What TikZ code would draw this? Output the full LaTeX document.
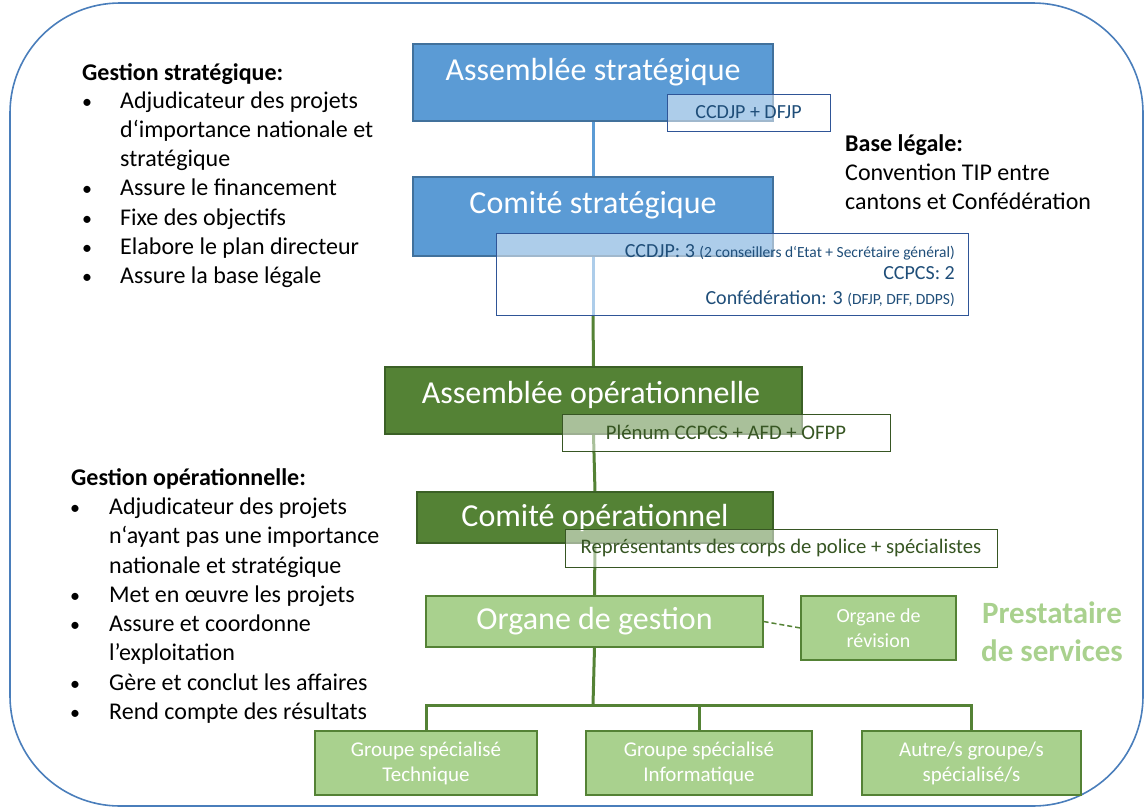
\documentclass[tikz,border=0pt]{standalone}
\usepackage{fontspec}
\setmainfont{Carlito}
\definecolor{sblue}{HTML}{5B9BD5}
\definecolor{sblueD}{HTML}{41719C}
\definecolor{itext}{HTML}{1F4E79}
\definecolor{iborder}{HTML}{2F5597}
\definecolor{gdark}{HTML}{548235}
\definecolor{gdarkD}{HTML}{3B6026}
\definecolor{gtext}{HTML}{375623}
\definecolor{glight}{HTML}{A9D18E}
\definecolor{outer}{HTML}{4A7EBB}
\pgfdeclarelayer{background}
\pgfsetlayers{background,main}
\begin{document}
\begin{tikzpicture}[x=1pt,y=-1pt,
  sbox/.style={draw=sblueD, line width=1.2pt, fill=sblue, inner sep=0},
  gbox/.style={draw=gdarkD, line width=1.2pt, fill=gdark, inner sep=0},
  lbox/.style={draw=gdark, line width=1.2pt, fill=glight, inner sep=0, text=white, align=center},
  ibox/.style={draw=iborder, line width=1pt, fill=white, fill opacity=0.5, text opacity=1, draw opacity=1, inner sep=0, text=itext, font=\fontsize{20}{24}\selectfont},
  igbox/.style={draw=gtext, line width=1pt, fill=white, fill opacity=0.5, text opacity=1, draw opacity=1, inner sep=0, text=gtext, font=\fontsize{20.7}{24}\selectfont},
  ttl/.style={anchor=base, inner sep=0, text=white, font=\fontsize{32}{38}\selectfont},
  lt/.style={anchor=base west, inner sep=0, font=\fontsize{24}{29}\selectfont},
  bul/.style={anchor=base, inner sep=0, font=\fontsize{20}{29}\selectfont},
  det/.style={anchor=base east, inner sep=0, text=itext},
  bline/.style={draw=sblue, line width=3pt},
  gline/.style={draw=gdark, line width=3pt},
  dline/.style={draw=gdark, line width=1.5pt, dash pattern=on 5pt off 3pt},
  presta/.style={anchor=base, inner sep=0, text=glight, font=\fontsize{31}{36}\selectfont\bfseries}
]
\useasboundingbox (0,0) rectangle (1146,809);

% main boxes
\node[sbox, minimum width=360, minimum height=77] (as) at (593,82.5) {};
\node[sbox, minimum width=360, minimum height=79] (cs) at (593,216.5) {};
\node[gbox, minimum width=417, minimum height=67] (ao) at (593.5,400.5) {};
\node[gbox, minimum width=356, minimum height=51, text=white, font=\fontsize{32}{38}\selectfont] (co) at (595,517.5) {Comité opérationnel};
\node[lbox, minimum width=337, minimum height=51, font=\fontsize{32}{38}\selectfont] (og) at (594.5,621.5) {Organe de gestion};
\node[lbox, minimum width=155, minimum height=64, font=\fontsize{20}{25}\selectfont] (rev) at (878.5,628) {Organe de\\révision};
\node[lbox, minimum width=222, minimum height=64, font=\fontsize{21}{25}\selectfont] (g1) at (426,763) {Groupe spécialisé\\Technique};
\node[lbox, minimum width=226, minimum height=64, font=\fontsize{21}{25}\selectfont] (g2) at (699,763) {Groupe spécialisé\\Informatique};
\node[lbox, minimum width=219, minimum height=64, font=\fontsize{21}{25}\selectfont] (g3) at (971.5,763) {Autre/s groupe/s\\spécialisé/s};

% titles
\node[ttl] (ast) at (593,80) {Assemblée stratégique};
\node[ttl] (cst) at (593,213) {Comité stratégique};
\node[ttl] (aot) at (591,403) {Assemblée opérationnelle};

% info boxes (semi-transparent)
\node[ibox, minimum width=163, minimum height=37] (ccdjp) at (748.5,112.5) {CCDJP + DFJP};
\node[ibox, minimum width=472, minimum height=82] (det) at (732,274) {};
\node[det, font=\fontsize{20}{22}\selectfont] (d1) at (955,257) {CCDJP: 3 {\fontsize{15.5}{16}\selectfont (2 conseillers d‘Etat + Secrétaire général)}};
\node[det, font=\fontsize{20}{22}\selectfont] (d2) at (955,279) {CCPCS: 2};
\node[det, font=\fontsize{20}{22}\selectfont] (d3) at (955,304) {Confédération: 3 {\fontsize{15.5}{16}\selectfont (DFJP, DFF, DDPS)}};
\node[igbox, minimum width=328, minimum height=37] (plen) at (726,432.5) {Plénum CCPCS + AFD + OFPP};
\node[igbox, minimum width=432, minimum height=38] (rep) at (781,548) {Représentants des corps de police + spécialistes};

\coordinate (j1) at (cs.south |- det.south);
\coordinate (bar) at (593,705);

% outer frame and connectors (behind boxes)
\begin{pgfonlayer}{background}
\draw[outer, line width=1.6pt, rounded corners=110] (10,3) rectangle (1143,806);
\draw[bline] (as.south) -- (cs.north);
\draw[bline] (cs.south) -- (j1);
\draw[gline] (j1) -- (ao.north);
\draw[gline] (ao.south) -- (co.north);
\draw[gline] (co.south) -- (og.north);
\draw[gline] (og.south) -- (bar);
\draw[gline] (g1.north) |- (bar) -| (g3.north);
\draw[gline] (g2.north) -- (g2.north |- bar);
\draw[dline] (og.east) -- (rev.west);
\end{pgfonlayer}

% left: gestion strategique
\node[lt, font=\fontsize{24}{29}\selectfont\bfseries] (gs) at (82,80) {Gestion stratégique:};
\node[bul] (gsb1) at (87,108) {•};
\node[lt] (gs1) at (120,108) {Adjudicateur des projets};
\node[lt] (gs2) at (120,137) {d‘importance nationale et};
\node[lt] (gs3) at (120,166) {stratégique};
\node[bul] (gsb4) at (87,195) {•};
\node[lt] (gs4) at (120,195) {Assure le financement};
\node[bul] (gsb5) at (87,225) {•};
\node[lt] (gs5) at (120,225) {Fixe des objectifs};
\node[bul] (gsb6) at (87,254) {•};
\node[lt] (gs6) at (120,254) {Elabore le plan directeur};
\node[bul] (gsb7) at (87,283) {•};
\node[lt] (gs7) at (120,283) {Assure la base légale};

% left: gestion operationnelle
\node[lt, font=\fontsize{24}{29}\selectfont\bfseries] (go) at (71,485) {Gestion opérationnelle:};
\node[bul] (gob1) at (75,514) {•};
\node[lt] (go1) at (109,514) {Adjudicateur des projets};
\node[lt] (go2) at (109,543) {n‘ayant pas une importance};
\node[lt] (go3) at (109,573) {nationale et stratégique};
\node[bul] (gob4) at (75,602) {•};
\node[lt] (go4) at (109,602) {Met en œuvre les projets};
\node[bul] (gob5) at (75,631) {•};
\node[lt] (go5) at (109,631) {Assure et coordonne};
\node[lt] (go6) at (109,660) {l’exploitation};
\node[bul] (gob7) at (75,690) {•};
\node[lt] (go7) at (109,690) {Gère et conclut les affaires};
\node[bul] (gob8) at (75,719) {•};
\node[lt] (go8) at (109,719) {Rend compte des résultats};

% base legale
\node[lt, font=\fontsize{24}{29}\selectfont\bfseries] (bl) at (845,151) {Base légale:};
\node[lt] (bl1) at (845,180) {Convention TIP entre};
\node[lt] (bl2) at (845,209) {cantons et Confédération};

% prestataire
\node[presta] (pr1) at (1052,623) {Prestataire};
\node[presta] (pr2) at (1052,661) {de services};
\end{tikzpicture}
\end{document}
